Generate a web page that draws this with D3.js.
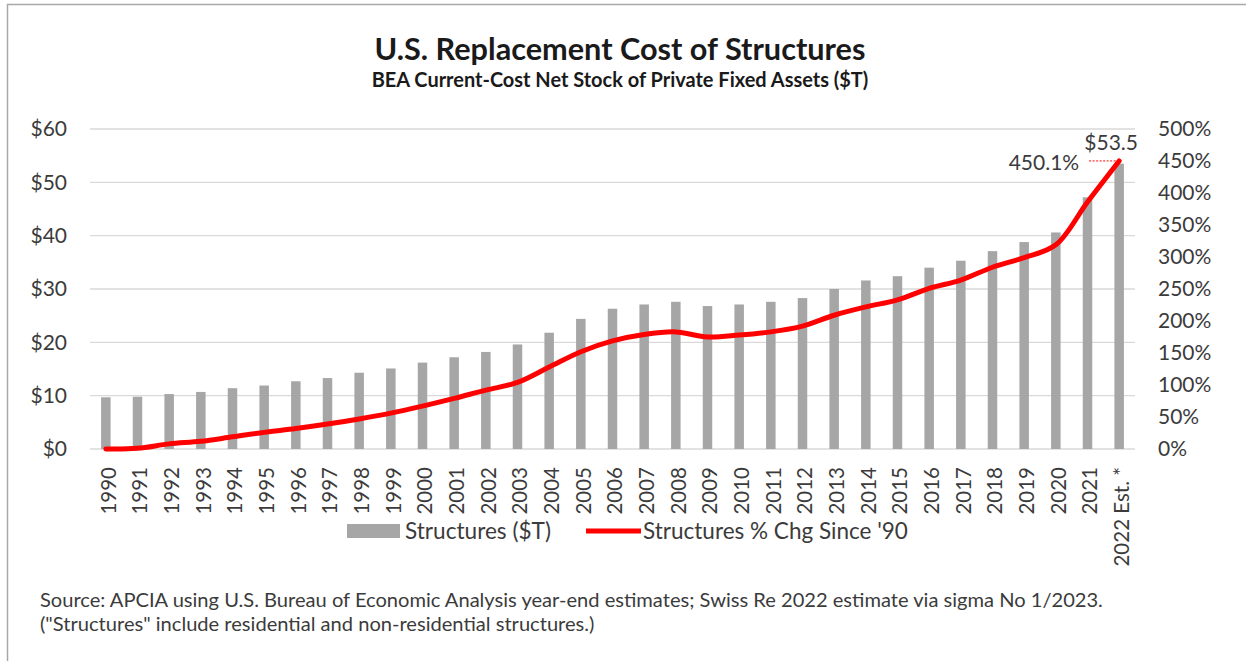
<!DOCTYPE html>
<html>
<head>
<meta charset="utf-8">
<script src="https://cdn.jsdelivr.net/npm/d3@7/dist/d3.min.js"></script>
<style>
  html, body { margin: 0; padding: 0; background: #fff; }
  svg { display: block; font-family: Lato, "Open Sans", sans-serif; }
</style>
</head>
<body>
<svg id="chart" width="1246" height="661"></svg>
<script>
// Year categories (last one is the Swiss Re estimate)
const years = ["1990","1991","1992","1993","1994","1995","1996","1997","1998","1999",
  "2000","2001","2002","2003","2004","2005","2006","2007","2008","2009",
  "2010","2011","2012","2013","2014","2015","2016","2017","2018","2019",
  "2020","2021","2022 Est. *"];

// Replacement cost of structures, $ trillions
const structures = [9.7, 9.8, 10.3, 10.7, 11.4, 11.9, 12.7, 13.3, 14.3, 15.1,
  16.2, 17.2, 18.2, 19.6, 21.8, 24.4, 26.3, 27.1, 27.6, 26.8,
  27.1, 27.6, 28.3, 30.0, 31.6, 32.4, 34.0, 35.3, 37.1, 38.8,
  40.6, 47.2, 53.5];

// Percent change since 1990
const pctChange = [0, 1, 8, 12, 19, 26, 32, 39, 47, 56,
  67, 79, 92, 104, 128, 152, 169, 179, 183, 175,
  178, 183, 192, 209, 222, 233, 251, 264, 284, 299,
  319, 386, 450.1];

const leftTicks = [0, 10, 20, 30, 40, 50, 60];
const rightTicks = [0, 50, 100, 150, 200, 250, 300, 350, 400, 450, 500];

const titleText = "U.S. Replacement Cost of Structures";
const subtitleText = "BEA Current-Cost Net Stock of Private Fixed Assets ($T)";
const sourceLines = [
  "Source: APCIA using U.S. Bureau of Economic Analysis year-end estimates; Swiss Re 2022 estimate via sigma No 1/2023.",
  "(\"Structures\" include residential and non-residential structures.)"
];
const legendLabels = ["Structures ($T)", "Structures % Chg Since '90"];

const svg = d3.select("#chart");
const textColor = "#3b3b3b";
const barColor = "#a6a6a6";
const lineColor = "#ff0000";

// Frame
svg.append("path")
  .attr("d", "M7.5,661 V4.5 H1246")
  .attr("fill", "none")
  .attr("stroke", "#a8a8a8")
  .attr("stroke-width", 1.5);

// Plot geometry
const plot = { left: 90, right: 1135, top: 129, bottom: 449 };

const x = d3.scaleBand()
  .domain(years)
  .range([plot.left, plot.right])
  .paddingInner(0.7)
  .paddingOuter(0.35);

const yL = d3.scaleLinear().domain([0, 60]).range([plot.bottom, plot.top]);
const yR = d3.scaleLinear().domain([0, 500]).range([plot.bottom, plot.top]);

// Fit a text node's font size so it spans the given width
function fitWidth(node, width) {
  const fs = parseFloat(node.getAttribute("font-size"));
  const w = node.getComputedTextLength();
  node.setAttribute("font-size", (fs * width / w).toFixed(2));
}

// Title & subtitle
const title = svg.append("text")
  .attr("x", 620).attr("y", 60)
  .attr("text-anchor", "middle")
  .attr("font-size", 28).attr("font-weight", 700)
  .attr("fill", "#1a1a1a")
  .text(titleText);
fitWidth(title.node(), 491);

const subtitle = svg.append("text")
  .attr("x", 620).attr("y", 87)
  .attr("text-anchor", "middle")
  .attr("font-size", 16).attr("font-weight", 700)
  .attr("fill", "#1a1a1a")
  .text(subtitleText);
fitWidth(subtitle.node(), 497);

// Gridlines (left axis ticks)
svg.append("g")
  .selectAll("line")
  .data(leftTicks)
  .join("line")
  .attr("x1", plot.left).attr("x2", plot.right)
  .attr("y1", d => yL(d)).attr("y2", d => yL(d))
  .attr("stroke", "#d9d9d9")
  .attr("stroke-width", 1.3);

// Left axis
const leftAxis = svg.append("g")
  .attr("transform", `translate(${plot.left},0)`)
  .call(d3.axisLeft(yL).tickValues(leftTicks).tickFormat(d => "$" + d).tickSize(0).tickPadding(23));
leftAxis.select(".domain").remove();
leftAxis.selectAll("text")
  .attr("font-family", "Lato, sans-serif")
  .attr("font-size", 21)
  .attr("fill", textColor);

// Right axis
const rightAxis = svg.append("g")
  .attr("transform", `translate(${plot.right},0)`)
  .call(d3.axisRight(yR).tickValues(rightTicks).tickFormat(d => d + "%").tickSize(0).tickPadding(23));
rightAxis.select(".domain").remove();
rightAxis.selectAll("text")
  .attr("font-family", "Lato, sans-serif")
  .attr("font-size", 21)
  .attr("fill", textColor);

// Bars
svg.append("g")
  .selectAll("rect")
  .data(years.map((y, i) => ({ year: y, value: structures[i] })))
  .join("rect")
  .attr("x", d => x(d.year))
  .attr("width", x.bandwidth())
  .attr("y", d => yL(d.value))
  .attr("height", d => yL(0) - yL(d.value))
  .attr("fill", barColor);

// X axis labels (rotated)
const cx = d => x(d) + x.bandwidth() / 2;
svg.append("g")
  .selectAll("text")
  .data(years)
  .join("text")
  .attr("transform", d => `translate(${cx(d) + 2.5},467) rotate(-90)`)
  .attr("text-anchor", "end")
  .attr("dy", "0.35em")
  .attr("font-size", 20.5)
  .attr("fill", textColor)
  .text(d => d);

// Percent change line
const lineData = years.map((y, i) => ({ year: y, value: pctChange[i] }));
const line = d3.line()
  .x(d => cx(d.year))
  .y(d => yR(d.value))
  .curve(d3.curveCatmullRom.alpha(0.5));

svg.append("path")
  .datum(lineData)
  .attr("d", line)
  .attr("fill", "none")
  .attr("stroke", lineColor)
  .attr("stroke-width", 5)
  .attr("stroke-linejoin", "round")
  .attr("stroke-linecap", "round");

// Value annotations on the last point
const last = years.length - 1;
const lastX = cx(years[last]);
svg.append("line")
  .attr("x1", lastX - 30).attr("x2", lastX - 2)
  .attr("y1", yR(pctChange[last])).attr("y2", yR(pctChange[last]))
  .attr("stroke", lineColor)
  .attr("stroke-width", 1)
  .attr("stroke-dasharray", "2,1.5");

svg.append("text")
  .attr("x", lastX - 40).attr("y", yR(pctChange[last]) + 1.5)
  .attr("dy", "0.35em")
  .attr("text-anchor", "end")
  .attr("font-size", 21)
  .attr("fill", textColor)
  .text(pctChange[last].toFixed(1) + "%");

svg.append("text")
  .attr("x", lastX - 8).attr("y", yL(structures[last]) - 14)
  .attr("text-anchor", "middle")
  .attr("font-size", 21)
  .attr("fill", textColor)
  .text("$" + structures[last].toFixed(1));

// Legend
const legend = svg.append("g");
legend.append("rect")
  .attr("x", 347).attr("y", 524)
  .attr("width", 53).attr("height", 14)
  .attr("fill", barColor);
const lg1 = legend.append("text")
  .attr("x", 405).attr("y", 531).attr("dy", "0.35em")
  .attr("font-size", 21).attr("fill", textColor)
  .text(legendLabels[0]);
fitWidth(lg1.node(), 146);
legend.append("line")
  .attr("x1", 586).attr("x2", 641)
  .attr("y1", 531).attr("y2", 531)
  .attr("stroke", lineColor)
  .attr("stroke-width", 5);
const lg2 = legend.append("text")
  .attr("x", 643).attr("y", 531).attr("dy", "0.35em")
  .attr("font-size", 21).attr("fill", textColor)
  .text(legendLabels[1]);
fitWidth(lg2.node(), 265);

// Source note
const src1 = svg.append("text")
  .attr("x", 40).attr("y", 600).attr("dy", "0.35em")
  .attr("font-size", 18).attr("fill", textColor)
  .text(sourceLines[0]);
fitWidth(src1.node(), 1063);
svg.append("text")
  .attr("x", 40).attr("y", 624).attr("dy", "0.35em")
  .attr("font-size", src1.attr("font-size")).attr("fill", textColor)
  .text(sourceLines[1]);
</script>
</body>
</html>
